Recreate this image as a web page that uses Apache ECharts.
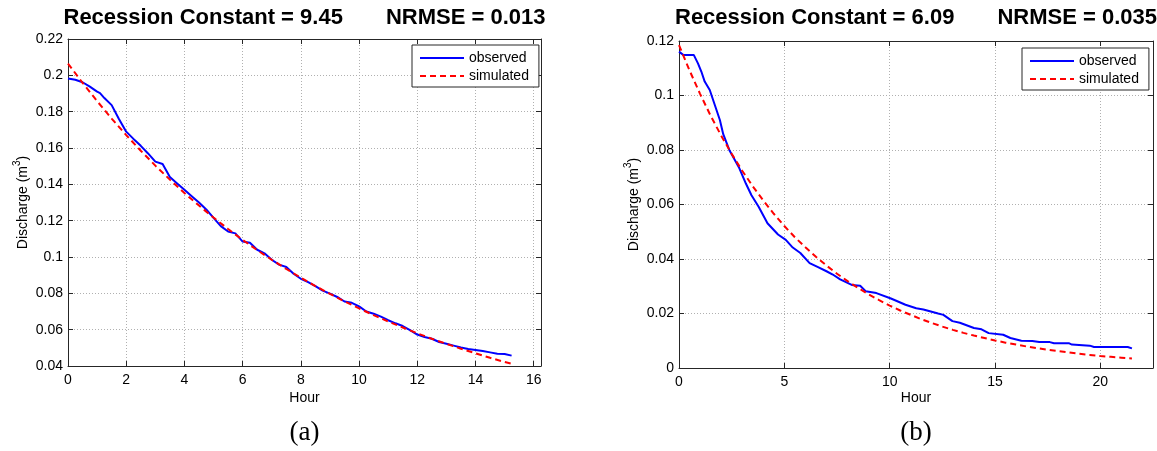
<!DOCTYPE html>
<html><head><meta charset="utf-8">
<script src="https://cdn.jsdelivr.net/npm/echarts@6/dist/echarts.min.js"></script>
<style>html,body{margin:0;padding:0;background:#fff}#c{width:1157px;height:451px}</style>
</head><body><div id="c"></div>
<script>
// ---------- data ----------
const hoursObsA = [0, 0.25, 0.5, 0.75, 1.0, 1.1, 1.25, 1.5, 1.75, 2.0, 2.25, 2.5, 2.75, 3.0, 3.25, 3.5, 3.75, 4.0, 4.25, 4.5, 4.75, 5.0, 5.25, 5.5, 5.75, 6.0, 6.25, 6.5, 6.75, 7.0, 7.25, 7.5, 7.75, 8.0, 8.25, 8.5, 8.75, 9.0, 9.25, 9.5, 9.75, 10.0, 10.25, 10.5, 10.75, 11.0, 11.25, 11.5, 11.75, 12.0, 12.25, 12.5, 12.75, 13.0, 13.25, 13.5, 13.75, 14.0, 14.25, 14.5, 14.75, 15.0, 15.24];
const obsA = [0.1983, 0.1976, 0.1962, 0.1938, 0.1910, 0.1902, 0.1875, 0.1836, 0.1760, 0.1690, 0.1650, 0.1612, 0.1570, 0.1525, 0.1512, 0.1440, 0.1405, 0.1370, 0.1335, 0.1300, 0.1262, 0.1215, 0.1170, 0.1140, 0.1130, 0.1085, 0.1078, 0.1040, 0.1020, 0.0985, 0.0958, 0.0945, 0.0908, 0.0880, 0.0862, 0.0840, 0.0815, 0.0798, 0.0780, 0.0755, 0.0748, 0.0728, 0.0700, 0.0688, 0.0672, 0.0652, 0.0635, 0.0620, 0.0598, 0.0573, 0.0560, 0.0550, 0.0532, 0.0522, 0.0512, 0.0502, 0.0494, 0.0488, 0.0482, 0.0475, 0.0468, 0.0466, 0.0457];
const hoursSimA = [0, 0.5, 1, 1.5, 2, 2.5, 3, 3.5, 4, 4.5, 5, 5.5, 6, 6.5, 7, 7.5, 8, 8.5, 9, 9.5, 10, 10.5, 11, 11.5, 12, 12.5, 13, 13.5, 14, 14.5, 15, 15.24];
const simA = [0.2065, 0.1959, 0.1858, 0.1762, 0.1671, 0.1585, 0.1503, 0.1426, 0.1352, 0.1283, 0.1217, 0.1154, 0.1094, 0.1038, 0.0985, 0.0934, 0.0886, 0.0840, 0.0797, 0.0756, 0.0717, 0.0680, 0.0645, 0.0612, 0.0580, 0.0550, 0.0522, 0.0495, 0.0470, 0.0445, 0.0422, 0.0413];

const hoursObsB = [0, 0.2, 0.7, 0.9, 1.06, 1.22, 1.46, 1.7, 1.94, 2.1, 2.4, 2.84, 3.18, 3.44, 3.78, 4.2, 4.7, 5.07, 5.4, 5.76, 6.2, 6.6, 7.0, 7.3, 7.65, 8.2, 8.6, 8.86, 9.37, 10.06, 10.75, 11.26, 11.6, 12.3, 12.55, 12.98, 13.33, 14.0, 14.36, 14.7, 15.39, 15.73, 16.25, 16.77, 17.1, 17.6, 17.8, 18.5, 18.65, 19.5, 19.7, 21.3, 21.5];
const obsB = [0.1161, 0.1149, 0.1149, 0.1118, 0.1088, 0.1051, 0.1020, 0.0965, 0.0910, 0.0858, 0.0798, 0.0737, 0.0676, 0.0634, 0.0592, 0.0531, 0.0490, 0.0470, 0.0442, 0.0422, 0.0385, 0.0370, 0.0355, 0.0343, 0.0325, 0.0305, 0.0302, 0.0282, 0.0275, 0.0255, 0.0232, 0.0219, 0.0215, 0.0200, 0.0195, 0.0172, 0.0166, 0.0147, 0.0142, 0.0128, 0.0122, 0.0110, 0.0100, 0.0099, 0.0095, 0.0095, 0.0091, 0.0091, 0.0086, 0.0082, 0.0077, 0.0077, 0.0072];
const hoursSimB = [0, 0.5, 1, 1.5, 2, 2.5, 3, 3.5, 4, 4.5, 5, 5.5, 6, 6.5, 7, 7.5, 8, 8.5, 9, 9.5, 10, 10.5, 11, 11.5, 12, 12.5, 13, 13.5, 14, 14.5, 15, 15.5, 16, 16.5, 17, 17.5, 18, 18.5, 19, 19.5, 20, 20.5, 21, 21.5];
const simB = [0.1185, 0.1092, 0.1006, 0.0926, 0.0853, 0.0786, 0.0724, 0.0667, 0.0615, 0.0566, 0.0521, 0.0480, 0.0443, 0.0408, 0.0376, 0.0346, 0.0319, 0.0294, 0.0270, 0.0249, 0.0229, 0.0211, 0.0195, 0.0179, 0.0165, 0.0152, 0.0140, 0.0129, 0.0119, 0.0110, 0.0101, 0.0093, 0.0086, 0.0079, 0.0073, 0.0067, 0.0062, 0.0057, 0.0052, 0.0048, 0.0044, 0.0041, 0.0038, 0.0035];

const xTicksA = [0, 2, 4, 6, 8, 10, 12, 14, 16];
const xTicksB = [0, 5, 10, 15, 20];
const titlesA = ['Recession Constant = 9.45', 'NRMSE = 0.013'];
const titlesB = ['Recession Constant = 6.09', 'NRMSE = 0.035'];
const seriesNames = ['observed', 'simulated'];
const panelLabels = ['(a)', '(b)'];
const xName = 'Hour';
const yNameParts = ['Discharge (m', '3', ')'];

// ---------- layout / style ----------
const FONT = 'Liberation Sans, Arial, Helvetica, sans-serif';
const AX = '#262626';
const panels = [
  {left: 68, top: 39, width: 473, height: 327, xmin: 0, xmax: 16.25, xint: 2, xt: xTicksA, ymin: 0.04, ymax: 0.22, yint: 0.02,
   titles: titlesA, hObs: hoursObsA, obs: obsA, hSim: hoursSimA, sim: simA, legend: {left: 412, top: 45}},
  {left: 679, top: 41, width: 474, height: 327, xmin: 0, xmax: 22.5, xint: 5, xt: xTicksB, ymin: 0, ymax: 0.12, yint: 0.02,
   titles: titlesB, hObs: hoursObsB, obs: obsB, hSim: hoursSimB, sim: simB, legend: {left: 1022, top: 48}}
];
const zip = (a, b) => a.map((v, i) => [v, b[i]]);

const grid = [], xAxis = [], yAxis = [], series = [], legend = [], graphic = [];
panels.forEach((p, i) => {
  grid.push({left: p.left, top: p.top, width: p.width, height: p.height, containLabel: false});
  const tick = {show: true, inside: true, length: 5, lineStyle: {color: AX, width: 1}};
  const line = {show: true, onZero: false, lineStyle: {color: AX, width: 1}};
  const split = {show: true, lineStyle: {color: '#b0b0b0', width: 1, type: [1, 2]}};
  const xt = p.xt;
  xAxis.push({type: 'value', gridIndex: i, position: 'bottom', min: p.xmin, max: p.xmax, interval: p.xint,
    axisLine: line, axisTick: tick, splitLine: split,
    axisLabel: {color: '#000', fontSize: 14, fontFamily: FONT, margin: 7,
      formatter: v => xt.indexOf(Math.round(v * 1000) / 1000) >= 0 ? String(Math.round(v * 1000) / 1000) : ''}});
  xAxis.push({type: 'value', gridIndex: i, position: 'top', min: p.xmin, max: p.xmax, interval: p.xint,
    axisLine: line, axisTick: tick, splitLine: {show: false}, axisLabel: {show: false}});
  yAxis.push({type: 'value', gridIndex: i, position: 'left', min: p.ymin, max: p.ymax, interval: p.yint,
    axisLine: line, axisTick: tick, splitLine: split,
    axisLabel: {color: '#000', fontSize: 14, fontFamily: FONT, margin: 5}});
  yAxis.push({type: 'value', gridIndex: i, position: 'right', min: p.ymin, max: p.ymax, interval: p.yint,
    axisLine: line, axisTick: tick, splitLine: {show: false}, axisLabel: {show: false}});
  series.push({type: 'line', name: seriesNames[0], xAxisIndex: 2 * i, yAxisIndex: 2 * i,
    data: zip(p.hObs, p.obs), symbol: 'none', showSymbol: false, animation: false,
    lineStyle: {color: '#0000ff', width: 2}, itemStyle: {color: '#0000ff'}, z: 3});
  series.push({type: 'line', name: seriesNames[1], xAxisIndex: 2 * i, yAxisIndex: 2 * i,
    data: zip(p.hSim, p.sim), symbol: 'none', showSymbol: false, animation: false,
    lineStyle: {color: '#ff0000', width: 2, type: [6, 4]}, itemStyle: {color: '#ff0000'}, z: 4});
  legend.push({left: p.legend.left, top: p.legend.top, orient: 'vertical', data: seriesNames,
    itemWidth: 44, itemHeight: 14, itemGap: 4, padding: [6, 10, 4, 7],
    itemStyle: {opacity: 0},
    borderColor: AX, borderWidth: 1, backgroundColor: '#fff', selectedMode: false,
    textStyle: {fontSize: 14, color: '#000', fontFamily: FONT}});
  const cx = p.left + p.width / 2;
  const cy = p.top + p.height / 2;
  graphic.push({type: 'text', x: cx - 241, y: 18, style: {text: p.titles[0], align: 'left', verticalAlign: 'middle',
    textAlign: 'left', textVerticalAlign: 'middle', fontSize: 22, fontWeight: 'bold', fontFamily: FONT, fill: '#000'}});
  graphic.push({type: 'text', x: cx + 241, y: 18, style: {text: p.titles[1], align: 'right', verticalAlign: 'middle',
    textAlign: 'right', textVerticalAlign: 'middle', fontSize: 22, fontWeight: 'bold', fontFamily: FONT, fill: '#000'}});
  graphic.push({type: 'text', x: cx, y: 398, style: {text: xName, align: 'center', verticalAlign: 'middle',
    textAlign: 'center', textVerticalAlign: 'middle', fontSize: 14, fontFamily: FONT, fill: '#000'}});
  graphic.push({type: 'text', x: cx, y: 433, style: {text: panelLabels[i], align: 'center', verticalAlign: 'middle',
    textAlign: 'center', textVerticalAlign: 'middle', fontSize: 27, fontFamily: 'Liberation Serif, Times New Roman, serif', fill: '#000'}});
  graphic.push({type: 'text', x: p.left - 47, y: cy, rotation: Math.PI / 2,
    style: {text: '{n|' + yNameParts[0] + '}{s|' + yNameParts[1] + '}{n|' + yNameParts[2] + '}',
      align: 'center', verticalAlign: 'middle', textAlign: 'center', textVerticalAlign: 'middle',
      rich: {n: {fontSize: 14, fontFamily: FONT, fill: '#000', lineHeight: 18, verticalAlign: 'bottom'},
             s: {fontSize: 10, fontFamily: FONT, fill: '#000', lineHeight: 18, verticalAlign: 'top'}}}});
});

const chart = echarts.init(document.getElementById('c'), null, {renderer: 'canvas'});
chart.setOption({animation: false, backgroundColor: '#fff', grid, xAxis, yAxis, series, legend, graphic});
</script></body></html>
